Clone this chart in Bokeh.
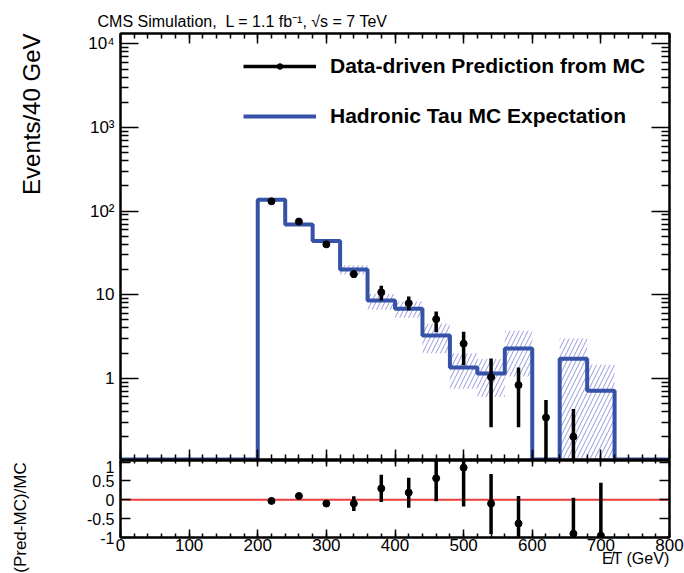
import math
from bokeh.plotting import figure
from bokeh.models import (Range1d, LogAxis, LinearAxis, FixedTicker, Title,
                          CustomJSTickFormatter, Label, Legend, LegendItem, Span)
from bokeh.layouts import column, row
from bokeh.embed import file_html
from bokeh.resources import INLINE

FONT = "Liberation Sans"

# ---------------- data ----------------
bin_low = [0, 40, 80, 120, 160, 200, 240, 280, 320, 360,
           400, 440, 480, 520, 560, 600, 640, 680, 720, 760]
bin_width = 40
mc_expect = [0, 0, 0, 0, 0, 137, 69, 44, 20, 8.5,
             6.8, 3.25, 1.35, 1.14, 2.28, 0, 1.72, 0.71, 0, 0]
mc_band_lo = [0, 0, 0, 0, 0, 134, 67, 42, 17.5, 6.6,
              5.3, 2.0, 0.75, 0.6, 1.05, 0, 0, 0, 0, 0]
mc_band_hi = [0, 0, 0, 0, 0, 140, 71, 46.5, 22.5, 10.2,
              8.3, 4.5, 2.0, 1.7, 3.7, 0, 3.0, 1.45, 0, 0]

pred_x = [220, 260, 300, 340, 380, 420, 460, 500, 540, 580, 620, 660]
pred = [131, 75, 40, 17.6, 10.7, 7.9, 5.1, 2.6, 1.03, 0.83, 0.34, 0.2]
pred_lo = [128, 73, 38.5, 15.8, 8.5, 6.5, 3.55, 1.43, 0.26, 0.26, 0.05, 0.05]
pred_hi = [134, 77, 42, 19.5, 12.8, 9.5, 6.3, 3.6, 1.73, 1.35, 0.55, 0.43]

ratio_x = [220, 260, 300, 340, 380, 420, 460, 500, 540, 580, 660, 700]
ratio = [-0.03, 0.1, -0.1, -0.1, 0.3, 0.19, 0.57, 0.85, -0.1, -0.63, -0.9, -0.95]
ratio_lo = [-0.05, 0.05, -0.18, -0.3, -0.06, -0.21, -0.04, -0.18, -0.91, -1.1, -1.1, -1.1]
ratio_hi = [-0.01, 0.15, -0.05, 0.09, 0.66, 0.58, 1.1, 1.2, 0.68, 0.1, 0.05, 0.45]

x_ticks = [0, 100, 200, 300, 400, 500, 600, 700, 800]
x_minor_ticks = list(range(0, 801, 20))
y_ticks = [1, 10, 100, 1000, 10000]
y_tick_labels = ["1", "10", "10²", "10³", "10⁴"]
y_minor_ticks = [m * 10.0 ** k for k in range(-1, 5) for m in range(2, 10)]
ratio_ticks = [-1, -0.5, 0, 0.5, 1]
ratio_tick_labels = ["-1", "-0.5", "0", "0.5", "1"]

TITLE = "CMS Simulation,\u00a0\u00a0L = 1.1 fb⁻¹, √s = 7 TeV"
Y_TITLE = "Events/40 GeV"
R_TITLE = "(Pred-MC)/MC"
X_TITLE = "E̸T (GeV)"

Y_MIN, Y_MAX = 0.107, 13300.0
R_MIN, R_MAX = -1.0, 1.04
MC_BLUE = "#3552a8"
HATCH = "#8c8cdc"

# ---------------- derived plotting arrays ----------------
edges = bin_low + [bin_low[-1] + bin_width]
mc_plot = [v if v > 0 else Y_MIN for v in mc_expect]
step_y = mc_plot + [mc_plot[-1]]
band_idx = [i for i in range(len(bin_low)) if mc_band_hi[i] > mc_band_lo[i]]
band_left = [bin_low[i] for i in band_idx]
band_right = [bin_low[i] + bin_width for i in band_idx]
band_bottom = [max(mc_band_lo[i], Y_MIN * 0.5) for i in band_idx]
band_top = [mc_band_hi[i] for i in band_idx]

empty_fmt = CustomJSTickFormatter(code="return '';")


def list_fmt(vals, labels):
    return CustomJSTickFormatter(args=dict(tvals=vals, tlabels=labels), code="""
        for (let i = 0; i < tvals.length; i++) {
            if (Math.abs(tvals[i] - tick) <= 1e-6 * Math.max(1, Math.abs(tvals[i]))) return tlabels[i];
        }
        return '';
    """)


def style_axis(ax, tick_in, minor_in, show_labels=False, size="16px", standoff=0):
    ax.major_tick_in = tick_in
    ax.major_tick_out = 0
    ax.minor_tick_in = minor_in
    ax.minor_tick_out = 0
    ax.major_tick_line_width = 1.5
    ax.minor_tick_line_width = 1.5
    ax.major_tick_line_color = "black"
    ax.minor_tick_line_color = "black"
    ax.axis_line_color = "black"
    ax.axis_line_width = 2
    ax.major_label_standoff = standoff
    if show_labels:
        ax.major_label_text_font = FONT
        ax.major_label_text_font_size = size
        ax.major_label_text_color = "black"
    else:
        ax.formatter = empty_fmt
        ax.major_label_text_font_size = "0px"


def plain(fig):
    fig.grid.visible = False
    fig.background_fill_color = "white"
    fig.border_fill_color = "white"


SIDE_W = 60
MAIN_W = 624
x_range = Range1d(0, 800)

# ---------------- top panel ----------------
top = figure(width=MAIN_W, height=460, x_range=x_range, y_range=Range1d(Y_MIN, Y_MAX),
             y_axis_type="log", output_backend="svg", toolbar_location=None,
             title=TITLE,
             min_border_left=120 - SIDE_W, min_border_right=15, min_border_top=33,
             min_border_bottom=1)
plain(top)
top.outline_line_color = "black"
top.outline_line_width = 2
top.title.align = "left"
top.title.offset = -23
top.title.standoff = 7
top.title.text_font = FONT
top.title.text_font_size = "16px"
top.title.text_font_style = "normal"
top.title.text_color = "black"

xt = FixedTicker(ticks=x_ticks, minor_ticks=x_minor_ticks)
yt = FixedTicker(ticks=y_ticks, minor_ticks=y_minor_ticks)

top.xaxis.ticker = xt
style_axis(top.xaxis[0], 10, 5)
top.yaxis.ticker = yt
top.yaxis[0].formatter = list_fmt(y_ticks, y_tick_labels)
style_axis(top.yaxis[0], 18, 8, show_labels=True, size="17px", standoff=6)

top_above = LinearAxis(ticker=xt)
style_axis(top_above, 10, 5)
top.add_layout(top_above, "above")
top_right = LogAxis(ticker=yt)
style_axis(top_right, 18, 8)
top.add_layout(top_right, "right")

top.quad(left=band_left, right=band_right, bottom=band_bottom, top=band_top,
         fill_alpha=0, line_alpha=0, hatch_pattern="/", hatch_color=HATCH,
         hatch_weight=1, hatch_scale=9, hatch_alpha=0.9)
step_r = top.step(edges, step_y, mode="after", line_color=MC_BLUE, line_width=4)
err_r = top.segment(x0=pred_x, y0=pred_lo, x1=pred_x, y1=pred_hi,
                    line_color="black", line_width=3.5)
pt_r = top.scatter(pred_x, pred, size=7, color="black")

legend = Legend(items=[LegendItem(label="Data-driven Prediction from MC", renderers=[err_r, pt_r]),
                       LegendItem(label="Hadronic Tau MC Expectation", renderers=[step_r])],
                location=(123, 331), orientation="vertical",
                border_line_color=None, background_fill_alpha=0,
                glyph_width=73, glyph_height=14, label_height=20, label_standoff=14,
                spacing=26, padding=0, margin=0,
                label_text_font=FONT, label_text_font_style="bold",
                label_text_font_size="21px", label_text_color="black")
top.add_layout(legend)

# ---------------- ratio panel ----------------
bot = figure(width=MAIN_W, height=113, x_range=x_range, y_range=Range1d(R_MIN, R_MAX),
             output_backend="svg", toolbar_location=None,
             min_border_left=120 - SIDE_W, min_border_right=15, min_border_top=0,
             min_border_bottom=36)
plain(bot)
bot.outline_line_color = "black"
bot.outline_line_width = 2

bot.xaxis.ticker = xt
style_axis(bot.xaxis[0], 8, 4, show_labels=True, size="17px", standoff=1)
rt = FixedTicker(ticks=ratio_ticks, minor_ticks=[])
bot.yaxis.ticker = rt
bot.yaxis[0].formatter = list_fmt(ratio_ticks, ratio_tick_labels)
style_axis(bot.yaxis[0], 10, 0, show_labels=True, size="16px", standoff=6)

bot_above = LinearAxis(ticker=xt)
style_axis(bot_above, 6, 3)
bot.add_layout(bot_above, "above")
bot_right = LinearAxis(ticker=rt)
style_axis(bot_right, 10, 0)
bot.add_layout(bot_right, "right")

bot.add_layout(Title(text=X_TITLE, align="right", vertical_align="top", offset=0, standoff=-7,
                     text_font=FONT, text_font_size="16px", text_font_style="normal",
                     text_color="black"), "below")

zero = Span(location=0, dimension="width", line_color="#ee3b3b", line_width=2, level="underlay")
bot.add_layout(zero)
bot.segment(x0=ratio_x, y0=ratio_lo, x1=ratio_x, y1=ratio_hi, line_color="black", line_width=3.5)
bot.scatter(ratio_x, ratio, size=7, color="black")

# ---------------- side strip with the vertical axis titles ----------------
side = figure(width=SIDE_W, height=573, x_range=Range1d(0, SIDE_W), y_range=Range1d(573, 0),
              output_backend="svg", toolbar_location=None,
              x_axis_location=None, y_axis_location=None,
              min_border_left=0, min_border_right=0, min_border_top=0, min_border_bottom=0)
plain(side)
side.outline_line_color = None
side.add_layout(Label(x=31, y=33, angle=math.pi / 2, text=Y_TITLE, text_font=FONT,
                      text_font_size="24px", text_color="black",
                      text_align="right", text_baseline="middle"))
side.add_layout(Label(x=20, y=517, angle=math.pi / 2, text=R_TITLE, text_font=FONT,
                      text_font_size="17px", text_color="black",
                      text_align="center", text_baseline="middle"))

layout = row(side, column(top, bot))
open("out.html", "w").write(file_html(layout, INLINE, title="plot"))
